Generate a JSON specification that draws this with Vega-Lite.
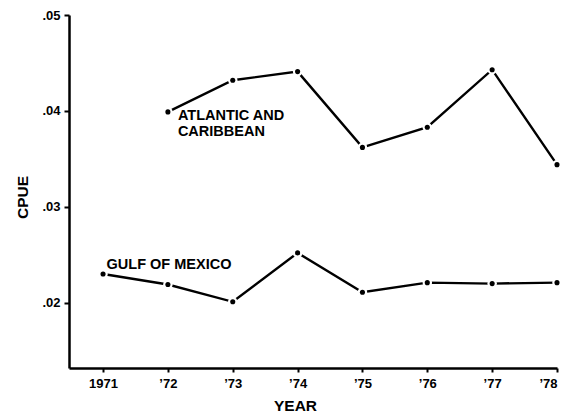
{
  "$schema": "https://vega.github.io/schema/vega-lite/v6.json",
  "width": 488,
  "height": 353,
  "autosize": "none",
  "padding": {"left": 69, "top": 15, "right": 19, "bottom": 44},
  "background": "white",
  "config": {
    "view": {"stroke": null},
    "font": "Liberation Sans",
    "axis": {"grid": false, "domainColor": "black", "tickColor": "black", "labelColor": "black", "titleColor": "black", "domainWidth": 2.5, "tickWidth": 2, "labelFont": "Liberation Sans", "labelFontWeight": "bold", "titleFont": "Liberation Sans", "titleFontWeight": "bold"}
  },
  "data": {
    "values": [
      {"series": "ATLANTIC AND\nCARIBBEAN", "year": 1972, "cpue": 0.0399},
      {"series": "ATLANTIC AND\nCARIBBEAN", "year": 1973, "cpue": 0.0432},
      {"series": "ATLANTIC AND\nCARIBBEAN", "year": 1974, "cpue": 0.0441},
      {"series": "ATLANTIC AND\nCARIBBEAN", "year": 1975, "cpue": 0.0362},
      {"series": "ATLANTIC AND\nCARIBBEAN", "year": 1976, "cpue": 0.0383},
      {"series": "ATLANTIC AND\nCARIBBEAN", "year": 1977, "cpue": 0.0443},
      {"series": "ATLANTIC AND\nCARIBBEAN", "year": 1978, "cpue": 0.0344},
      {"series": "GULF OF MEXICO", "year": 1971, "cpue": 0.0230},
      {"series": "GULF OF MEXICO", "year": 1972, "cpue": 0.0219},
      {"series": "GULF OF MEXICO", "year": 1973, "cpue": 0.0201},
      {"series": "GULF OF MEXICO", "year": 1974, "cpue": 0.0252},
      {"series": "GULF OF MEXICO", "year": 1975, "cpue": 0.0211},
      {"series": "GULF OF MEXICO", "year": 1976, "cpue": 0.0221},
      {"series": "GULF OF MEXICO", "year": 1977, "cpue": 0.0220},
      {"series": "GULF OF MEXICO", "year": 1978, "cpue": 0.0221}
    ]
  },
  "encoding": {
    "x": {
      "field": "year", "type": "quantitative",
      "scale": {"domain": [1970.475, 1978], "nice": false, "zero": false},
      "axis": {
        "values": [1971, 1972, 1973, 1974, 1975, 1976, 1977, 1978],
        "labelExpr": "datum.value == 1971 ? '1971' : '’' + substring(toString(datum.value), 2)",
        "labelFontSize": 13, "tickSize": 4, "labelPadding": 5,
        "title": "YEAR", "titleFontSize": 15.5, "titleX": 226, "titleY": 42, "titleAnchor": null, "titleAlign": "center", "titleBaseline": "alphabetic"
      }
    },
    "y": {
      "field": "cpue", "type": "quantitative",
      "scale": {"domain": [0.0132, 0.05], "nice": false, "zero": false},
      "axis": {
        "values": [0.02, 0.03, 0.04, 0.05],
        "labelExpr": "'.' + substring(format(datum.value, '.2f'), 2)",
        "labelFontSize": 13, "tickSize": 5, "labelPadding": 4,
        "title": "CPUE", "titleFontSize": 15.5, "titleAngle": -90, "titleX": -47, "titleY": 182, "titleAlign": "center", "titleBaseline": "middle"
      }
    }
  },
  "layer": [
    {"mark": {"type": "line", "color": "black", "strokeWidth": 2.4}, "encoding": {"detail": {"field": "series"}}},
    {"mark": {"type": "point", "filled": true, "color": "white", "opacity": 1, "size": 90}},
    {"mark": {"type": "point", "filled": true, "color": "black", "opacity": 1, "size": 26}},
    {
      "transform": [{"filter": "datum.year == 1972 && indexof(datum.series, 'ATLANTIC') == 0"}],
      "mark": {"type": "text", "align": "left", "baseline": "alphabetic", "dx": 10, "dy": 8, "fontSize": 14.5, "fontWeight": "bold", "lineBreak": "\n", "lineHeight": 16, "color": "black"},
      "encoding": {"text": {"field": "series"}}
    },
    {
      "transform": [{"filter": "datum.year == 1971"}],
      "mark": {"type": "text", "align": "left", "baseline": "alphabetic", "dx": 3.5, "dy": -4.5, "fontSize": 14.5, "fontWeight": "bold", "color": "black"},
      "encoding": {"text": {"field": "series"}}
    }
  ]
}
